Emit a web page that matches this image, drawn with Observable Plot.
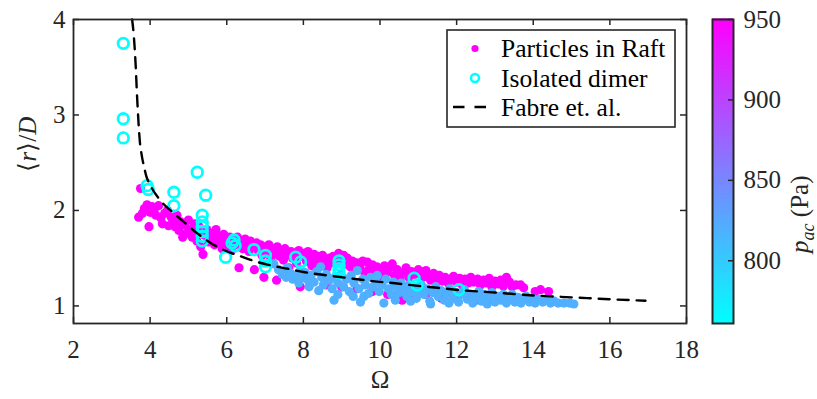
<!DOCTYPE html>
<html><head><meta charset="utf-8">
<script src="https://cdn.jsdelivr.net/npm/d3@7"></script>
<script src="https://cdn.jsdelivr.net/npm/@observablehq/plot@0.6"></script>
<style>
body{margin:0;background:#fff}
#chart{position:relative;width:817px;height:399px}
#chart svg{position:absolute;left:0;top:0}
</style>
</head><body><div id="chart"></div>
<script>
// ---- data ----
const pHigh = 950;   // Particles in Raft, high acoustic pressure
const pLow = 820;    // Particles in Raft, lower acoustic pressure
const pDimer = 761;  // Isolated dimer
const raftHigh = [[3.70,1.93],[3.75,2.23],[3.80,1.97],[3.85,2.02],[3.92,2.06],[3.97,1.83],[4.00,1.98],[4.05,2.04],[4.10,2.00],[4.15,1.95],[4.22,2.05],[4.28,1.92],[4.32,1.86],[4.38,1.97],[4.45,2.00],[4.48,1.84],[4.55,1.93],[4.60,1.88],[4.65,1.83],[4.70,1.95],[4.75,1.79],[4.80,1.88],[4.85,1.72],[4.90,1.85],[4.95,1.76],[5.00,1.90],[5.05,1.80],[5.10,1.72],[5.15,1.86],[5.20,1.77],[5.22,1.68],[5.28,1.83],[5.32,1.62],[5.38,1.54],[5.42,1.74],[5.48,1.80],[5.52,1.67],[5.58,1.76],[5.62,1.70],[5.68,1.64],[5.72,1.80],[5.78,1.73],[5.82,1.67],[5.88,1.60],[5.92,1.75],[5.98,1.69],[6.02,1.63],[6.08,1.72],[6.12,1.58],[6.18,1.70],[6.22,1.64],[6.28,1.72],[6.32,1.40],[6.38,1.67],[6.42,1.60],[6.48,1.70],[6.52,1.64],[6.58,1.57],[6.62,1.68],[6.68,1.62],[6.72,1.38],[6.78,1.66],[6.82,1.58],[6.88,1.64],[6.92,1.53],[6.97,1.30],[7.00,1.62],[7.05,1.56],[7.10,1.64],[7.15,1.50],[7.20,1.60],[7.25,1.55],[7.30,1.27],[7.32,1.62],[7.38,1.52],[7.42,1.58],[7.48,1.48],[7.52,1.60],[7.58,1.54],[7.62,1.40],[7.68,1.57],[7.72,1.50],[7.78,1.55],[7.82,1.45],[7.88,1.58],[7.92,1.20],[7.95,1.52],[8.02,1.55],[8.08,1.47],[8.12,1.57],[8.18,1.50],[8.22,1.42],[8.28,1.54],[8.32,1.47],[8.38,1.52],[8.45,1.44],[8.50,1.53],[8.55,1.48],[8.62,1.40],[8.68,1.50],[8.72,1.45],[8.78,1.52],[8.85,1.46],[8.92,1.55],[8.98,1.50],[9.05,1.53],[9.10,1.44],[9.15,1.50],[9.22,1.41],[9.28,1.47],[9.35,1.38],[9.40,1.45],[9.48,1.40],[9.55,1.47],[9.60,1.35],[9.67,1.46],[9.72,1.39],[9.80,1.43],[9.85,1.34],[9.92,1.41],[10.00,1.37],[10.05,1.30],[10.12,1.42],[10.18,1.35],[10.25,1.40],[10.32,1.44],[10.38,1.32],[10.45,1.38],[10.52,1.28],[10.58,1.06],[10.60,1.35],[10.68,1.40],[10.75,1.30],[10.82,1.36],[10.90,1.33],[11.00,1.38],[11.06,1.36],[11.12,1.30],[11.20,1.37],[11.25,1.32],[11.32,1.27],[11.40,1.34],[11.48,1.29],[11.55,1.32],[11.62,1.26],[11.70,1.30],[11.78,1.24],[11.85,1.28],[11.92,1.31],[12.00,1.25],[12.08,1.29],[12.15,1.22],[12.22,1.28],[12.30,1.24],[12.37,1.30],[12.45,1.25],[12.50,1.06],[12.55,1.28],[12.62,1.22],[12.70,1.27],[12.78,1.24],[12.85,1.29],[12.92,1.20],[13.00,1.26],[13.08,1.23],[13.15,1.27],[13.22,1.21],[13.30,1.30],[13.38,1.25],[13.45,1.20],[13.55,1.22],[13.67,1.22],[13.75,1.19],[14.05,1.15],[14.19,1.17],[14.40,1.15],[8.20,1.25],[8.60,1.22],[9.00,1.20],[9.40,1.18],[9.80,1.15],[10.20,1.12],[10.80,1.10],[11.20,1.12],[11.60,1.08],[12.00,1.08],[12.80,1.10],[13.20,1.10]];
const raftLow = [[7.23,1.44],[7.35,1.38],[7.45,1.33],[7.55,1.30],[7.58,1.40],[7.65,1.35],[7.72,1.28],[7.80,1.32],[7.88,1.24],[7.93,1.38],[8.00,1.30],[8.05,1.35],[8.12,1.27],[8.15,1.20],[8.20,1.32],[8.28,1.25],[8.35,1.36],[8.40,1.16],[8.45,1.41],[8.48,1.30],[8.52,1.22],[8.60,1.33],[8.68,1.27],[8.75,1.18],[8.80,1.06],[8.82,1.30],[8.90,1.24],[8.90,1.12],[8.98,1.33],[9.05,1.20],[9.12,1.28],[9.20,1.15],[9.25,1.32],[9.30,1.10],[9.32,1.24],[9.41,1.37],[9.45,1.18],[9.49,1.04],[9.55,1.28],[9.58,1.10],[9.62,1.22],[9.70,1.13],[9.75,1.30],[9.82,1.20],[9.90,1.25],[9.93,1.32],[9.98,1.15],[10.05,1.22],[10.10,1.03],[10.15,1.28],[10.22,1.18],[10.30,1.12],[10.35,1.25],[10.40,1.06],[10.42,1.20],[10.50,1.14],[10.55,1.24],[10.62,1.18],[10.70,1.10],[10.75,1.22],[10.80,1.05],[10.82,1.15],[10.90,1.20],[10.95,1.08],[11.00,1.16],[11.08,1.22],[11.15,1.12],[11.22,1.18],[11.30,1.05],[11.32,1.02],[11.38,1.14],[11.45,1.20],[11.52,1.10],[11.60,1.16],[11.68,1.06],[11.75,1.13],[11.80,1.03],[11.82,1.18],[11.90,1.08],[11.98,1.14],[12.05,1.04],[12.12,1.12],[12.20,1.17],[12.28,1.07],[12.35,1.12],[12.42,1.03],[12.50,1.10],[12.58,1.15],[12.65,1.05],[12.72,1.12],[12.80,1.02],[12.85,1.08],[12.92,1.14],[13.00,1.04],[13.08,1.10],[13.15,1.06],[13.22,1.12],[13.30,1.03],[13.38,1.08],[13.45,1.12],[13.52,1.04],[13.60,1.09],[13.68,1.03],[13.75,1.07],[13.82,1.10],[13.90,1.04],[13.98,1.08],[14.05,1.03],[14.15,1.07],[14.25,1.04],[14.35,1.06],[14.45,1.03],[14.55,1.05],[14.65,1.03],[14.80,1.03],[14.95,1.03],[15.06,1.02]];
const dimers = [[3.30,3.75],[3.30,2.96],[3.30,2.76],[3.92,2.26],[3.95,2.22],[4.62,2.19],[4.62,2.05],[5.23,2.40],[5.45,2.16],[5.36,1.95],[5.36,1.88],[5.36,1.83],[5.36,1.78],[5.36,1.73],[5.36,1.68],[5.97,1.51],[6.14,1.66],[6.19,1.69],[6.22,1.63],[6.71,1.59],[7.01,1.53],[7.01,1.47],[7.01,1.41],[7.80,1.51],[7.93,1.46],[8.93,1.47],[8.93,1.43],[8.93,1.39],[8.93,1.35],[10.89,1.29],[10.97,1.22],[12.06,1.17]];
const fabreOmega = [3.53,3.57,3.62,3.66,3.70,3.73,3.78,3.84,3.90,3.97,4.05,4.30,4.62,4.88,5.20,5.58,5.90,6.36,6.80,7.20,7.58,8.00,8.62,9.20,9.80,10.45,11.00,11.50,12.10,13.00,14.00,15.00,16.00,16.93];
const fabreR     = [4.00,3.85,3.54,3.19,2.90,2.73,2.58,2.46,2.36,2.29,2.23,2.09,1.97,1.88,1.77,1.66,1.59,1.52,1.46,1.42,1.39,1.355,1.32,1.29,1.26,1.235,1.21,1.19,1.165,1.14,1.11,1.09,1.07,1.055];
const xTicks = [2,4,6,8,10,12,14,16,18];
const yTicks = [1,2,3,4];
const cbTicks = [800,850,900,950];
const legendLabels = ["Particles in Raft","Isolated dimer","Fabre et. al."];

// ---- tables ----
const raftRows = raftHigh.map(([o,r]) => ({omega:o, r, p:pHigh}))
  .concat(raftLow.map(([o,r]) => ({omega:o, r, p:pLow})));
const dimerRows = dimers.map(([o,r]) => ({omega:o, r, p:pDimer}));
const fabreRows = fabreOmega.map((o,i) => ({omega:o, r:fabreR[i]}));

const FONT = "'Liberation Serif', 'Times New Roman', serif";
const INK = "#262626";
const colorOpts = {type:"linear", domain:[761,950], range:["#00ffff","#ff00ff"], interpolate:"rgb"};
const W = 817, H = 399;
const mL = 73, mR = 131, mT = 19, mB = 76;
const fw = W - mL - mR, fh = H - mT - mB;
const TL = 6;
const fmt = d => String(d);
const baseStyle = {fontFamily: FONT, fontSize: "25px", color: INK, background: "transparent", overflow: "visible"};

const main = Plot.plot({
  width: W, height: H, marginLeft: mL, marginRight: mR, marginTop: mT, marginBottom: mB,
  x: {domain:[2,18]},
  y: {domain:[0.816,4]},
  color: colorOpts,
  style: baseStyle,
  marks: [
    Plot.dot(raftRows, {x:"omega", y:"r", fill:"p", r:4.6, stroke:"none"}),
    Plot.dot(dimerRows, {x:"omega", y:"r", stroke:"p", fill:"none", r:5.3, strokeWidth:2.8}),
    Plot.line(fabreRows, {x:"omega", y:"r", stroke:"#000", strokeWidth:2.4, strokeDasharray:"11,8", curve:"monotone-x"}),
    Plot.ruleX(xTicks, {x:d=>d, insetTop: fh-TL, stroke:INK, strokeWidth:1.5}),
    Plot.ruleX(xTicks, {x:d=>d, insetBottom: fh-TL, stroke:INK, strokeWidth:1.5}),
    Plot.ruleY(yTicks, {y:d=>d, insetRight: fw-TL, stroke:INK, strokeWidth:1.5}),
    Plot.ruleY(yTicks, {y:d=>d, insetLeft: fw-TL, stroke:INK, strokeWidth:1.5}),
    Plot.frame({stroke:INK, strokeWidth:1.8}),
    Plot.axisX({ticks:xTicks, tickFormat:fmt, tickSize:0, tickPadding:17, label:null}),
    Plot.axisY({ticks:yTicks, tickFormat:fmt, tickSize:0, tickPadding:8, label:null}),
    Plot.text(["Ω"], {text:d=>d, frameAnchor:"bottom", dy:64, fontSize:25, fill:INK}),
    Plot.text(["⟨r⟩/D"], {text:d=>d, frameAnchor:"left", rotate:-90, dx:-46, fontSize:25, fill:INK})
  ]
});

const cbSteps = d3.range(761, 950, 1);
const cb = Plot.plot({
  width: W, height: H, marginLeft: 712, marginRight: 84, marginTop: mT, marginBottom: mB,
  x: {domain:[0,1], axis:null},
  y: {domain:[761,950]},
  color: colorOpts,
  style: baseStyle,
  marks: [
    Plot.rect(cbSteps, {x1:0, x2:1, y1:d=>d, y2:d=>d+1, fill:d=>d+0.5, insetTop:-0.6, insetBottom:-0.6}),
    Plot.frame({stroke:INK, strokeWidth:2}),
    Plot.ruleY(cbTicks, {y:d=>d, insetLeft: 21-5, stroke:INK, strokeWidth:1.5}),
    Plot.axisY({anchor:"right", ticks:cbTicks, tickFormat:fmt, tickSize:0, tickPadding:10, label:null}),
    Plot.text(["pac (Pa)"], {text:d=>d, frameAnchor:"right", rotate:-90, dx:66, dy:4, fontSize:25, fill:INK})
  ]
});

const chart = document.getElementById("chart");
chart.appendChild(main);
chart.appendChild(cb);

// rich text for math labels
function rich(svg, str, parts) {
  d3.select(svg).selectAll("text").filter(function(){ return this.textContent === str; })
    .each(function() {
      const t = d3.select(this);
      t.text(null);
      for (const p of parts) {
        const s = t.append("tspan").text(p.t);
        if (p.i) s.attr("font-style","italic");
        if (p.fs) s.attr("font-size", p.fs);
        if (p.dy) s.attr("dy", p.dy);
      }
    });
}
rich(main, "⟨r⟩/D", [{t:"⟨"},{t:"r",i:true},{t:"⟩/"},{t:"D",i:true}]);
rich(cb, "pac (Pa)", [{t:"p",i:true},{t:"ac",i:true,fs:18,dy:6},{t:" (Pa)",dy:-6}]);

// legend
const cs = Plot.scale({color: colorOpts});
const lg = d3.select(main).append("g").attr("font-family", FONT).attr("font-size", 25.5)
  .attr("fill", "#000").attr("text-anchor", "start");
lg.append("rect").attr("x",447).attr("y",30).attr("width",228).attr("height",97)
  .attr("fill","#fff").attr("stroke",INK).attr("stroke-width",1.6);
const rowsY = [48.5, 78, 107];
lg.append("circle").attr("cx",475).attr("cy",rowsY[0]).attr("r",3.6).attr("fill",cs.apply(pHigh));
lg.append("circle").attr("cx",475).attr("cy",rowsY[1]).attr("r",4).attr("fill","none")
  .attr("stroke",cs.apply(pDimer)).attr("stroke-width",2.6);
lg.append("line").attr("x1",453).attr("x2",487).attr("y1",rowsY[2]).attr("y2",rowsY[2])
  .attr("stroke","#000").attr("stroke-width",2.4).attr("stroke-dasharray","11.5,10");
legendLabels.forEach((s,i) => {
  lg.append("text").attr("x",501).attr("y",rowsY[i]).attr("dy","0.34em").text(s);
});
</script></body></html>
